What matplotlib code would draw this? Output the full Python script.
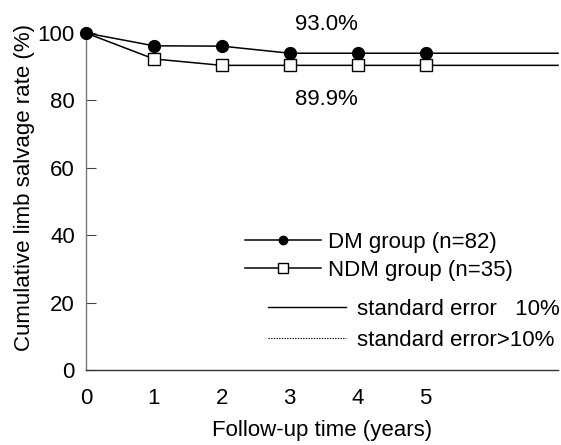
import numpy as np
import matplotlib
matplotlib.use("Agg")
import matplotlib.pyplot as plt
from matplotlib.lines import Line2D

plt.rcParams["font.family"] = ["Liberation Sans", "DejaVu Sans"]

# data
years = [0, 1, 2, 3, 4, 5]
dm_rate = [100, 96.2, 96.1, 94.0, 94.0, 94.0]
ndm_rate = [100, 92.3, 90.4, 90.4, 90.4, 90.4]
x_end = 6.95
dm_label = "DM group (n=82)"
ndm_label = "NDM group (n=35)"
dm_final = "93.0%"
ndm_final = "89.9%"

fs = 16
fig = plt.figure(figsize=(5.61, 4.45), dpi=100)
ax = fig.add_axes([86 / 561, 75 / 445, 472 / 561, 337 / 445])

# flat tail after the last marker
ax.plot(years + [x_end], dm_rate + [dm_rate[-1]], color="black", lw=1.1,
        clip_on=False, zorder=2)
ax.plot(years + [x_end], ndm_rate + [ndm_rate[-1]], color="black", lw=1.1,
        clip_on=False, zorder=2)
ax.plot(years, dm_rate, "o", color="black", ms=8.5, clip_on=False, zorder=4)
ax.plot(years[1:], ndm_rate[1:], "s", mfc="white", mec="black", mew=1.0,
        ms=9, clip_on=False, zorder=3)

ax.text(3.54, 102.4, dm_final, ha="center", va="center", fontsize=fs)
ax.text(3.54, 80.2, ndm_final, ha="center", va="center", fontsize=fs)

ax.set_xlim(0, x_end)
ax.set_ylim(0, 100)
ax.set_xticks(years)
ax.set_yticks([0, 20, 40, 60, 80, 100])
ax.tick_params(axis="x", length=0, pad=13, labelsize=fs)
ax.tick_params(axis="y", direction="in", length=7, width=0.8, pad=8,
               labelsize=fs, color="#444444")
ax.set_xlabel("Follow-up time (years)", fontsize=fs, labelpad=8)
ax.set_ylabel("Cumulative limb salvage rate (%)", fontsize=fs)
ax.yaxis.set_label_coords(-0.108, 0.543)
for s in ["top", "right"]:
    ax.spines[s].set_visible(False)
ax.spines["left"].set_color("#777777")
ax.spines["bottom"].set_color("#333333")
ax.spines["left"].set_linewidth(1.0)
ax.spines["bottom"].set_linewidth(1.0)

# group legend
h1 = [Line2D([], [], color="black", lw=1.1, marker="o", ms=6),
      Line2D([], [], color="black", lw=1.1, marker="s", mfc="white",
             mec="black", ms=7)]
leg1 = ax.legend(h1, [dm_label, ndm_label], loc="upper left",
                 bbox_to_anchor=(245 / 561, 1 - 232 / 445),
                 bbox_transform=fig.transFigure, frameon=False, fontsize=fs,
                 borderpad=0, borderaxespad=0, handlelength=3.4,
                 handletextpad=0.32, labelspacing=0.3)
ax.add_artist(leg1)

# standard error legend
h2 = [Line2D([], [], color="black", lw=1.0),
      Line2D([], [], color="black", lw=0.8, ls=(0, (1.2, 1.2)))]
ax.legend(h2, ["standard error   10%", "standard error>10%"], loc="upper left",
          bbox_to_anchor=(268 / 561, 1 - 299 / 445),
          bbox_transform=fig.transFigure, frameon=False, fontsize=fs,
          borderpad=0, borderaxespad=0, handlelength=3.5,
          handletextpad=0.5, labelspacing=0.45)

fig.savefig("out.png", dpi=100)
